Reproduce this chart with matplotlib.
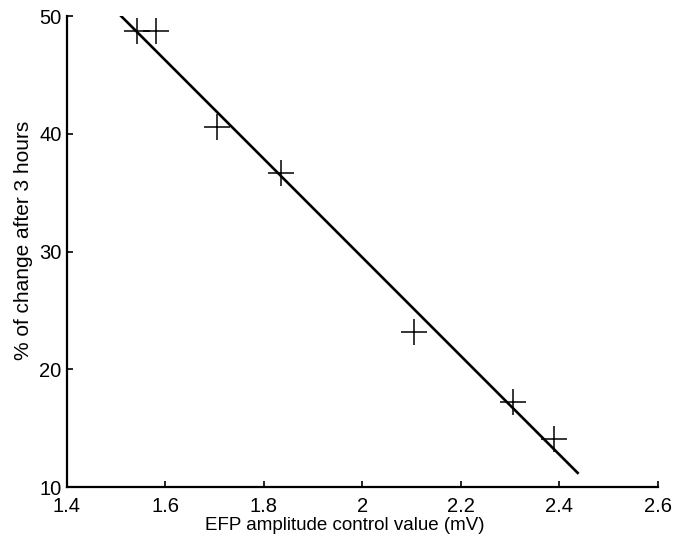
#!/usr/bin/env python3

import numpy as np
import matplotlib.pyplot as plt

plt.rcParams['font.family'] = ['Liberation Sans', 'DejaVu Sans']

# measured points
amp = [1.542, 1.581, 1.705, 1.834, 2.105, 2.306, 2.389]
change = [48.7, 48.7, 40.6, 36.7, 23.2, 17.2, 14.1]

# fitted line
fit_x = [1.51, 2.437]
fit_y = [50.0, 11.2]

fig = plt.figure(figsize=(6.94, 5.36), dpi=100)
ax = fig.add_axes([0.0965, 0.0914, 0.8515, 0.8786])

ax.plot(fit_x, fit_y, '-', color='black', linewidth=1.9)
ax.plot(amp, change, '+', color='black', markersize=19, markeredgewidth=1.1)

ax.set_xlim(1.4, 2.6)
ax.set_ylim(10, 50)
ax.set_xticks([1.4, 1.6, 1.8, 2.0, 2.2, 2.4, 2.6])
ax.set_xticklabels(['1.4', '1.6', '1.8', '2', '2.2', '2.4', '2.6'])
ax.set_yticks([10, 20, 30, 40, 50])

ax.spines['top'].set_visible(False)
ax.spines['right'].set_visible(False)
ax.spines['left'].set_linewidth(1.6)
ax.spines['bottom'].set_linewidth(1.6)
ax.tick_params(direction='in', length=4, width=1.2, labelsize=14.5)
ax.tick_params(axis='x', pad=7)
ax.tick_params(axis='y', pad=4)

ax.set_xlabel('EFP amplitude control value (mV)', fontsize=13.5)
ax.xaxis.set_label_coords(0.47, -0.063)
ax.set_ylabel('% of change after 3 hours', fontsize=15)
ax.yaxis.set_label_coords(-0.057, 0.523)

fig.savefig('out.png')
